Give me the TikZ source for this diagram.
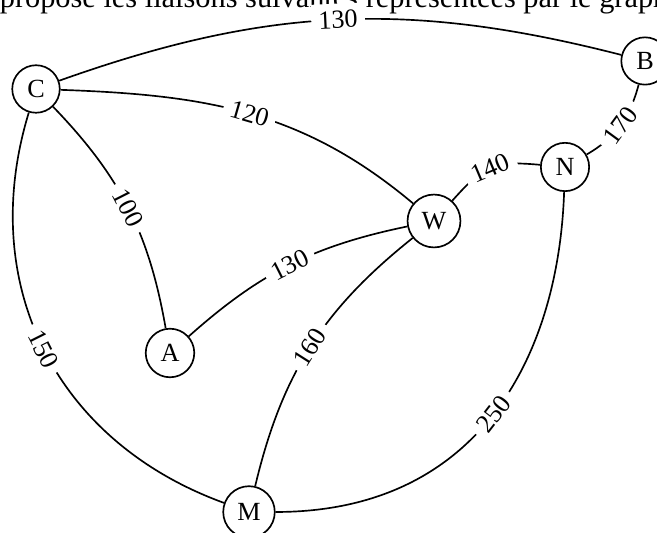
\documentclass[tikz,border=0pt]{standalone}
\usepackage{fontspec}
\setmainfont{Liberation Serif}
\begin{document}
\begin{tikzpicture}[x=0.42pt, y=0.42pt, line width=0.7pt,
  font=\fontsize{11}{13}\selectfont,
  sommet/.style={draw, circle, inner sep=3.4pt},
  poids/.style={fill=white, sloped, inner sep=3pt}]
\useasboundingbox (0,0) rectangle (657,533);
\clip (0,0) rectangle (657,533);
\node[anchor=base west, inner sep=0, font=\fontsize{12.75}{14}\selectfont] (intro) at (-1,525) {propose les liaisons suivantes représentées par le graphe};
% sommets
\node[sommet] (C) at (36,444) {C};
\node[sommet] (B) at (645,472) {B};
\node[sommet] (N) at (565,366) {N};
\node[sommet] (W) at (434,312) {W};
\node[sommet] (A) at (170,180) {A};
\node[sommet] (M) at (249,21) {M};
% aretes
\draw (C) to[bend left=17] node[poids] {130} (B);
\draw (C) to[out=-2, in=140] node[poids] {120} (W);
\draw (C) to[bend left=17] node[poids] {100} (A);
\draw (C) to[out=-107, in=160, looseness=1.05] node[poids] {150} (M);
\draw (A) to[bend left=15] node[poids] {130} (W);
\draw (W) to[bend right=19] node[poids] {160} (M);
\draw (W) to[out=48, in=175, looseness=1.3] node[poids] {140} (N);
\draw (N) to[out=30, in=255] node[poids] {170} (B);
\draw (N) to[out=-92, in=0, out looseness=0.98, in looseness=1.2] node[poids] {250} (M);
\end{tikzpicture}
\end{document}
